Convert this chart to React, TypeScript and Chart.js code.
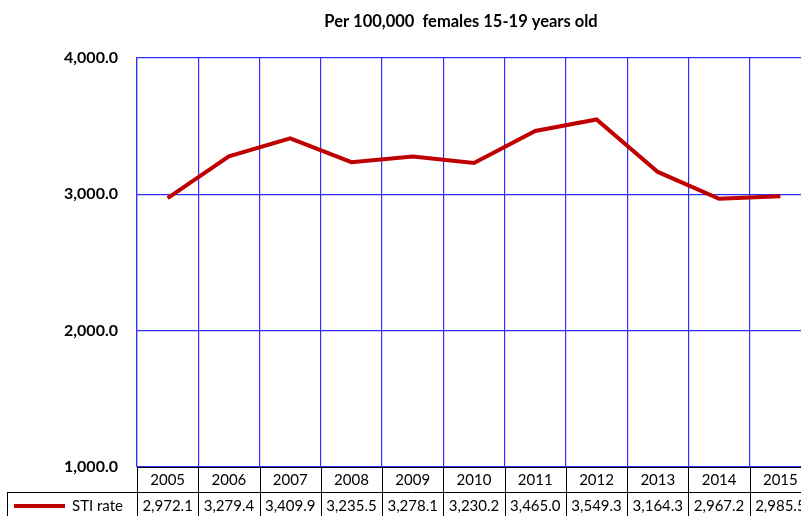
import React, { useEffect, useRef } from "react";
import { Chart, registerables } from "chart.js";

Chart.register(...registerables);

const years = ["2005", "2006", "2007", "2008", "2009", "2010", "2011", "2012", "2013", "2014", "2015"];
const stiRate = [2972.1, 3279.4, 3409.9, 3235.5, 3278.1, 3230.2, 3465.0, 3549.3, 3164.3, 2967.2, 2985.5];
const seriesName = "STI rate";
const titleText = "Per 100,000  females 15-19 years old";
const yMin = 1000;
const yMax = 4000;
const yStep = 1000;

const FONT = "Lato, 'Noto Sans', sans-serif";
const LINE_COLOR = "#C00000";
const GRID_COLOR = "#2E2EFF";

const fmt1 = (v: number) =>
  v.toLocaleString("en-US", { minimumFractionDigits: 1, maximumFractionDigits: 1 });

const tablePlugin = {
  id: "dataTable",
  afterDraw(chart: any) {
    const ctx = chart.ctx as CanvasRenderingContext2D;
    const area = chart.chartArea;
    const xs = chart.scales.x;
    const n = years.length;
    const catW = (area.right - area.left) / n;
    const rowTop = area.bottom;
    const rowMid = 492;
    const rowBottom = 518;
    const legendLeft = 7.5;

    ctx.save();
    // title
    ctx.fillStyle = "#000";
    ctx.font = `bold 16.5px ${FONT}`;
    ctx.textAlign = "center";
    ctx.textBaseline = "middle";
    ctx.fillText(titleText, 461, 22);

    // table lines
    ctx.strokeStyle = "#000";
    ctx.lineWidth = 1;
    ctx.beginPath();
    ctx.moveTo(area.left, rowTop + 0.5);
    ctx.lineTo(chart.width, rowTop + 0.5);
    ctx.moveTo(legendLeft, rowMid + 0.5);
    ctx.lineTo(chart.width, rowMid + 0.5);
    ctx.moveTo(legendLeft, rowBottom + 0.5);
    ctx.lineTo(chart.width, rowBottom + 0.5);
    ctx.moveTo(legendLeft, rowMid);
    ctx.lineTo(legendLeft, rowBottom);
    for (let i = 0; i <= n; i++) {
      const x = Math.round(area.left + i * catW) + 0.5;
      ctx.moveTo(x, rowTop);
      ctx.lineTo(x, rowBottom);
    }
    ctx.stroke();

    // years & values
    ctx.fillStyle = "#000";
    ctx.font = `15px ${FONT}`;
    ctx.textAlign = "center";
    ctx.textBaseline = "middle";
    for (let i = 0; i < n; i++) {
      const cx = xs.getPixelForValue(i);
      ctx.fillText(years[i], cx, (rowTop + rowMid) / 2 + 1);
      ctx.fillText(fmt1(stiRate[i]), cx, (rowMid + rowBottom) / 2 + 1);
    }

    // legend key
    ctx.strokeStyle = LINE_COLOR;
    ctx.lineWidth = 4;
    ctx.beginPath();
    ctx.moveTo(14, 506);
    ctx.lineTo(65, 506);
    ctx.stroke();
    ctx.fillStyle = "#000";
    ctx.textAlign = "left";
    ctx.fillText(seriesName, 72, 506);
    ctx.restore();
  },
};

export default function App() {
  const ref = useRef<HTMLCanvasElement>(null);
  useEffect(() => {
    if (!ref.current) return;
    const chart = new Chart(ref.current, {
      type: "line",
      data: {
        labels: years,
        datasets: [
          {
            label: seriesName,
            data: stiRate,
            borderColor: LINE_COLOR,
            backgroundColor: LINE_COLOR,
            borderWidth: 4,
            pointRadius: 0,
            tension: 0,
            fill: false,
          },
        ],
      },
      options: {
        responsive: false,
        animation: false,
        layout: { padding: { top: 58, bottom: 49, right: 4, left: 0 } },
        plugins: {
          legend: { display: false },
          title: { display: false },
          tooltip: { enabled: false },
        },
        scales: {
          x: {
            offset: true,
            grid: { offset: true, color: GRID_COLOR, lineWidth: 1.2, drawTicks: false },
            border: { display: false },
            ticks: { display: false },
          },
          y: {
            min: yMin,
            max: yMax,
            afterFit: (s: any) => {
              s.width = 137;
            },
            ticks: {
              stepSize: yStep,
              padding: 19,
              color: "#000",
              font: { family: FONT, size: 16, weight: "bold" },
              callback: (v: any) => fmt1(Number(v)),
            },
            grid: { color: GRID_COLOR, lineWidth: 1.2, drawTicks: false },
            border: { color: GRID_COLOR, width: 1.2 },
          },
        },
      },
      plugins: [tablePlugin],
    });
    return () => chart.destroy();
  }, []);
  return (
    <div
      style={{
        position: "fixed",
        left: 0,
        top: 0,
        width: 801,
        height: 516,
        overflow: "hidden",
        background: "#fff",
      }}
    >
      <canvas ref={ref} width={815} height={516} style={{ display: "block" }} />
    </div>
  );
}
